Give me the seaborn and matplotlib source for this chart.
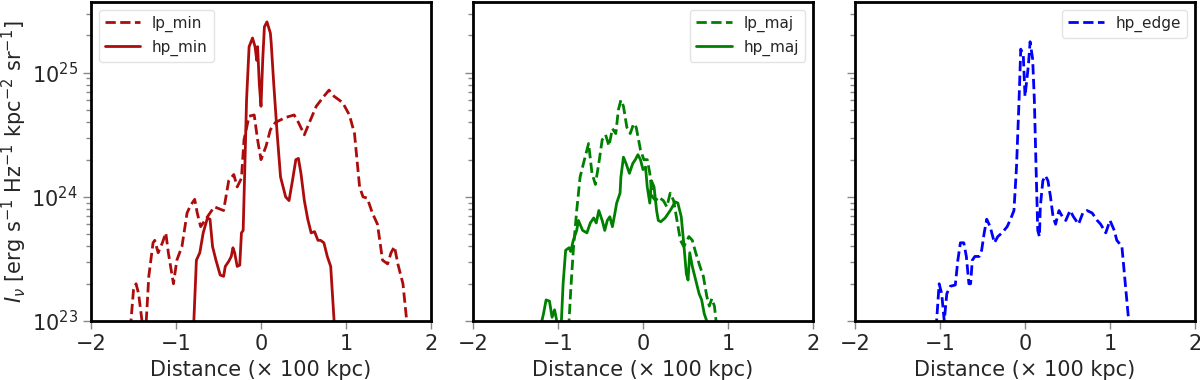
import numpy as np
import pandas as pd
import matplotlib
matplotlib.use("Agg")
import matplotlib.pyplot as plt
from matplotlib.ticker import LogLocator, NullFormatter
import seaborn as sns

# ---- data (x in 100 kpc, y as log10 I_nu) ----
lp_min_x = [-1.55, -1.53, -1.50, -1.47, -1.44, -1.40, -1.38, -1.35, -1.32, -1.27, -1.25, -1.21, -1.16, -1.12, -1.09, -1.03,
            -0.99, -0.93, -0.87, -0.83, -0.78, -0.75, -0.71, -0.63, -0.55, -0.44, -0.38, -0.32, -0.28, -0.23,
            -0.20, -0.14, -0.08, -0.04, 0.00, 0.06, 0.11, 0.17, 0.29, 0.39, 0.44, 0.51, 0.57, 0.65, 0.74,
            0.80, 0.86, 0.96, 1.04, 1.10, 1.16, 1.20, 1.25, 1.31, 1.37, 1.43, 1.49, 1.53, 1.57, 1.61, 1.67,
            1.71, 1.76]
lp_min_y = [22.7, 23.00, 23.25, 23.30, 23.22, 23.0, 22.8, 23.0, 23.36, 23.63, 23.65, 23.55, 23.63, 23.71, 23.55, 23.30,
            23.49, 23.60, 23.87, 23.93, 23.98, 23.87, 23.76, 23.84, 23.92, 23.89, 24.13, 24.18, 24.08, 24.15,
            24.46, 24.65, 24.66, 24.46, 24.30, 24.41, 24.54, 24.60, 24.64, 24.66, 24.60, 24.50, 24.60, 24.73, 24.81,
            24.86, 24.81, 24.76, 24.66, 24.51, 24.08, 24.00, 23.99, 23.87, 23.78, 23.49, 23.46, 23.55, 23.60, 23.46, 23.30,
            23.03, 22.8]

hp_min_x = [-0.80, -0.79, -0.76, -0.72, -0.68, -0.63, -0.60, -0.57, -0.53, -0.48, -0.44, -0.42, -0.38, -0.35, -0.33, -0.31,
            -0.28, -0.25, -0.23, -0.21, -0.19, -0.17, -0.14, -0.10, -0.07, -0.05, -0.04, -0.02, 0.00, 0.02,
            0.04, 0.07, 0.11, 0.12, 0.15, 0.19, 0.23, 0.29, 0.33, 0.37, 0.41, 0.44, 0.47, 0.51, 0.55, 0.59,
            0.63, 0.67, 0.70, 0.74, 0.78, 0.82, 0.84, 0.86, 0.87]
hp_min_y = [22.7, 23.0, 23.49, 23.55, 23.71, 23.83, 23.82, 23.60, 23.49, 23.37, 23.36, 23.44, 23.48, 23.52, 23.59, 23.55,
            23.44, 23.45, 23.71, 23.73, 24.24, 24.78, 25.21, 25.28, 25.21, 25.10, 25.21, 24.91, 24.73, 25.10,
            25.37, 25.41, 25.32, 25.24, 24.91, 24.51, 24.16, 24.00, 23.97, 24.13, 24.30, 24.31, 24.19, 23.97, 23.82, 23.71,
            23.72, 23.65, 23.65, 23.63, 23.52, 23.44, 23.22, 23.0, 22.7]

lp_maj_x = [-0.88, -0.87, -0.85, -0.82, -0.78, -0.74, -0.70, -0.64, -0.60, -0.56, -0.52, -0.48, -0.44, -0.40, -0.36, -0.32,
            -0.29, -0.26, -0.23, -0.19, -0.15, -0.11, -0.08, -0.03, 0.01, 0.05, 0.08, 0.11, 0.15, 0.18,
            0.24, 0.28, 0.32, 0.36, 0.40, 0.44, 0.48, 0.54, 0.58, 0.62, 0.67, 0.71, 0.75, 0.78, 0.81, 0.84,
            0.86, 0.87]
lp_maj_y = [22.7, 23.0, 23.25, 23.57, 23.89, 24.16, 24.27, 24.43, 24.19, 24.10, 24.27, 24.46, 24.50, 24.41, 24.55, 24.51,
            24.70, 24.78, 24.73, 24.56, 24.51, 24.59, 24.56, 24.38, 24.30, 24.30, 24.19, 24.00, 23.97, 24.00,
            23.97, 23.92, 24.03, 23.97, 23.81, 23.65, 23.60, 23.68, 23.65, 23.55, 23.44, 23.36, 23.20, 23.12, 23.18, 23.12,
            23.0, 22.7]

hp_maj_x = [-1.20, -1.19, -1.17, -1.14, -1.10, -1.07, -1.04, -1.02, -1.00, -0.98, -0.96, -0.94, -0.91, -0.87, -0.85, -0.82,
            -0.78, -0.76, -0.71, -0.66, -0.62, -0.58, -0.55, -0.52, -0.48, -0.45, -0.42, -0.39, -0.36, -0.33,
            -0.31, -0.27, -0.26, -0.23, -0.20, -0.16, -0.12, -0.09, -0.06, -0.03, 0.00, 0.03, 0.05, 0.08,
            0.10, 0.13, 0.16, 0.18, 0.21, 0.26, 0.32, 0.38, 0.41, 0.45, 0.48, 0.51, 0.53, 0.55, 0.58, 0.62,
            0.66, 0.69, 0.72, 0.75, 0.76]
hp_maj_y = [22.7, 23.0, 23.06, 23.17, 23.16, 23.03, 23.09, 23.02, 22.9, 22.8, 23.0, 23.30, 23.57, 23.59, 23.56, 23.65,
            23.73, 23.81, 23.73, 23.71, 23.79, 23.83, 23.79, 23.89, 23.81, 23.73, 23.81, 23.84, 23.76, 23.87,
            23.95, 24.03, 24.16, 24.32, 24.27, 24.19, 24.27, 24.30, 24.34, 24.30, 24.22, 24.24, 24.08, 23.95,
            24.13, 24.08, 23.89, 23.81, 23.80, 23.83, 23.89, 23.96, 23.95, 23.84, 23.62, 23.38, 23.33, 23.55, 23.44, 23.33,
            23.22, 23.17, 23.06, 23.0, 22.7]

hp_edge_x = [-1.05, -1.04, -1.01, -0.98, -0.95, -0.92, -0.88, -0.82, -0.79, -0.76, -0.72, -0.69, -0.66, -0.64, -0.62, -0.59,
             -0.54, -0.51, -0.48, -0.45, -0.41, -0.36, -0.32, -0.27, -0.21, -0.17, -0.13, -0.10, -0.07, -0.05,
             -0.02, 0.00, 0.04, 0.06, 0.09, 0.11, 0.13, 0.15, 0.17, 0.18, 0.21, 0.24, 0.27, 0.30, 0.33, 0.36,
             0.40, 0.44, 0.48, 0.53, 0.57, 0.63, 0.68, 0.73, 0.79, 0.85, 0.89, 0.95, 1.00, 1.05, 1.08, 1.14,
             1.18, 1.22, 1.23]
hp_edge_y = [22.7, 23.0, 23.30, 23.22, 23.0, 23.22, 23.28, 23.29, 23.49, 23.63, 23.63, 23.52, 23.30, 23.30, 23.49, 23.52,
             23.52, 23.57, 23.71, 23.82, 23.76, 23.63, 23.68, 23.71, 23.76, 23.82, 23.89, 24.24, 24.78, 25.19,
             25.14, 24.81, 25.06, 25.25, 25.11, 24.78, 24.24, 23.73, 23.68, 23.92, 24.13, 24.17, 24.13, 24.00, 23.84, 23.78,
             23.89, 23.84, 23.81, 23.89, 23.84, 23.78, 23.87, 23.89, 23.87, 23.81, 23.78, 23.71, 23.81, 23.73, 23.65, 23.60,
             23.30, 23.0, 22.7]

RED = "#ad0c0c"
GREEN = "#008000"
BLUE = "#0000ff"

sns.set_theme(style="ticks")
plt.rcParams["font.family"] = ["DejaVu Sans"]
plt.rcParams["mathtext.fontset"] = "dejavusans"

fig = plt.figure(figsize=(12, 3.8), dpi=100)
bottom = 1 - 321 / 380
height = (321 - 2) / 380
w = 340 / 1200
axes = [fig.add_axes([91 / 1200, bottom, w, height]),
        fig.add_axes([473 / 1200, bottom, w, height]),
        fig.add_axes([855 / 1200, bottom, w, height])]


def frame(x, y, name):
    return pd.DataFrame({"x": x, "y": np.power(10.0, np.array(y)), "name": name})


panels = [
    [(lp_min_x, lp_min_y, "lp_min", RED, "--"), (hp_min_x, hp_min_y, "hp_min", RED, "-")],
    [(lp_maj_x, lp_maj_y, "lp_maj", GREEN, "--"), (hp_maj_x, hp_maj_y, "hp_maj", GREEN, "-")],
    [(hp_edge_x, hp_edge_y, "hp_edge", BLUE, "--")],
]
legend_loc = ["upper left", "upper right", "upper right"]

for ax, series, loc in zip(axes, panels, legend_loc):
    for x, y, name, col, ls in series:
        df = frame(x, y, name)
        sns.lineplot(data=df, x="x", y="y", ax=ax, color=col, linestyle=ls,
                     linewidth=2, label=name, sort=False, estimator=None)
    ax.set_yscale("log")
    ax.set_ylim(1e23, 10 ** 25.57)
    ax.yaxis.set_minor_locator(LogLocator(base=10, subs=np.arange(2, 10), numticks=20))
    ax.yaxis.set_minor_formatter(NullFormatter())
    ax.set_xlim(-2, 2)
    ax.set_xticks([-2, -1, 0, 1, 2])
    ax.set_xlabel("Distance (× 100 kpc)", fontsize=15)
    ax.set_ylabel("")
    for s in ax.spines.values():
        s.set_linewidth(2)
        s.set_color("black")
    ax.tick_params(axis="both", which="major", labelsize=15, color="#888888",
                   length=6, width=1, direction="out")
    ax.tick_params(axis="y", which="minor", color="#888888", length=3.5, width=1,
                   direction="out", left=True)
    leg = ax.legend(loc=loc, fontsize=11, frameon=True, handlelength=2.3)
    leg.get_frame().set_edgecolor("#dddddd")

axes[0].set_ylabel(r"$I_\nu$ [erg s$^{-1}$ Hz$^{-1}$ kpc$^{-2}$ sr$^{-1}$]", fontsize=15, labelpad=2)
for ax in axes[1:]:
    ax.tick_params(axis="y", which="both", labelleft=False)

fig.savefig("out.png", dpi=100)
